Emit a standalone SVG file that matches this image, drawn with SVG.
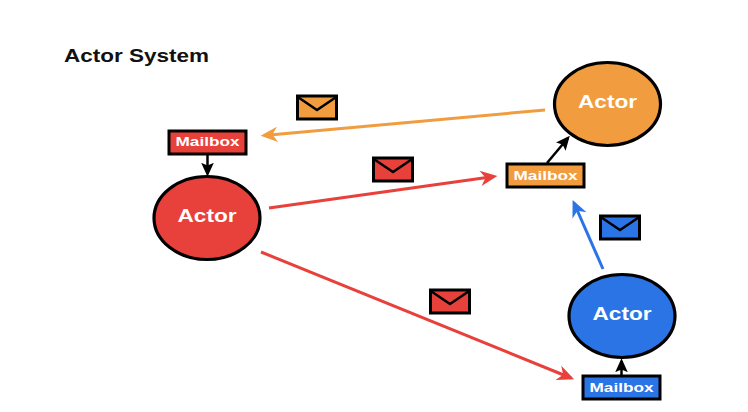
<svg xmlns="http://www.w3.org/2000/svg" width="748" height="412" viewBox="0 0 748 412">
<style>
text{font-family:"Liberation Sans",Arial,sans-serif;font-weight:bold}
.a{fill:#fff;font-size:18.5px;text-anchor:middle}
.m{fill:#fff;font-size:13.5px;text-anchor:middle}
.o{stroke:#000;stroke-width:3.2}
.b{stroke:#000;stroke-width:3}
.r{fill:#e8403a}.y{fill:#f09c3f}.u{fill:#2a74e6}
.c{fill:none;stroke-width:3;stroke-linecap:butt}
.l{stroke:#000;stroke-width:2.5}
</style>
<defs>
<marker id="hr" viewBox="0 0 10 10" refX="8" refY="5" markerUnits="userSpaceOnUse" markerWidth="20" markerHeight="17" orient="auto"><path d="M0 0.500L10 5L0 9.500L3 5Z" fill="#e8403a"/></marker>
<marker id="hy" viewBox="0 0 10 10" refX="8" refY="5" markerUnits="userSpaceOnUse" markerWidth="20" markerHeight="17" orient="auto"><path d="M0 0.500L10 5L0 9.500L3 5Z" fill="#f09c3f"/></marker>
<marker id="hu" viewBox="0 0 10 10" refX="8" refY="5" markerUnits="userSpaceOnUse" markerWidth="20" markerHeight="17" orient="auto"><path d="M0 0.500L10 5L0 9.500L3 5Z" fill="#2a74e6"/></marker>
<marker id="hk" viewBox="0 0 10 10" refX="8" refY="5" markerUnits="userSpaceOnUse" markerWidth="14" markerHeight="14" orient="auto"><path d="M0 0.500L10 5L0 9.500L2 5Z" fill="#000"/></marker>
<path id="env" d="M1.500 1.500L20 14L38.500 1.500" fill="none" stroke="#000" stroke-width="2.500"/>
</defs>
<text x="64" y="62" font-size="18.5" fill="#111" id="title" textLength="145" lengthAdjust="spacingAndGlyphs">Actor System</text>
<g id="connectors">
<path class="c" stroke="#f09c3f" d="M545 110L264 135.500" marker-end="url(#hy)"/>
<path class="c" stroke="#e8403a" d="M269 208L494 176.500" marker-end="url(#hr)"/>
<path class="c" stroke="#e8403a" d="M261 252L571 378" marker-end="url(#hr)"/>
<path class="c" stroke="#2a74e6" d="M603 269L574 203" marker-end="url(#hu)"/>
<path class="l" d="M207.500 154V174" marker-end="url(#hk)"/>
<path class="l" d="M547 163L568 138" marker-end="url(#hk)"/>
<path class="l" d="M621.500 376V361" marker-end="url(#hk)"/>
</g>
<g id="actor-red"><ellipse class="o r" cx="207" cy="218" rx="53" ry="41.500"/><text class="a" x="207" y="222" textLength="59" lengthAdjust="spacingAndGlyphs">Actor</text></g>
<g id="actor-orange"><ellipse class="o y" cx="607.500" cy="104" rx="53" ry="41.500"/><text class="a" x="607.500" y="108" textLength="59" lengthAdjust="spacingAndGlyphs">Actor</text></g>
<g id="actor-blue"><ellipse class="o u" cx="622" cy="316" rx="53" ry="41.500"/><text class="a" x="622" y="320" textLength="59" lengthAdjust="spacingAndGlyphs">Actor</text></g>
<g id="mailbox-red"><rect class="b r" x="169" y="131" width="77" height="23"/><text class="m" x="207.500" y="146" textLength="64" lengthAdjust="spacingAndGlyphs">Mailbox</text></g>
<g id="mailbox-orange"><rect class="b y" x="507" y="164" width="77" height="23"/><text class="m" x="545.500" y="180" textLength="64" lengthAdjust="spacingAndGlyphs">Mailbox</text></g>
<g id="mailbox-blue"><rect class="b u" x="583" y="376" width="77" height="23"/><text class="m" x="621.500" y="392" textLength="64" lengthAdjust="spacingAndGlyphs">Mailbox</text></g>
<g id="envelope-orange"><rect class="b y" x="297.500" y="96" width="39" height="23"/><use href="#env" x="297" y="96"/></g>
<g id="envelope-red-1"><rect class="b r" x="373.500" y="158" width="39" height="23"/><use href="#env" x="373" y="158"/></g>
<g id="envelope-blue"><rect class="b u" x="600.500" y="216" width="39" height="23"/><use href="#env" x="600" y="216"/></g>
<g id="envelope-red-2"><rect class="b r" x="430.500" y="290" width="39" height="23"/><use href="#env" x="430" y="290"/></g>
</svg>
